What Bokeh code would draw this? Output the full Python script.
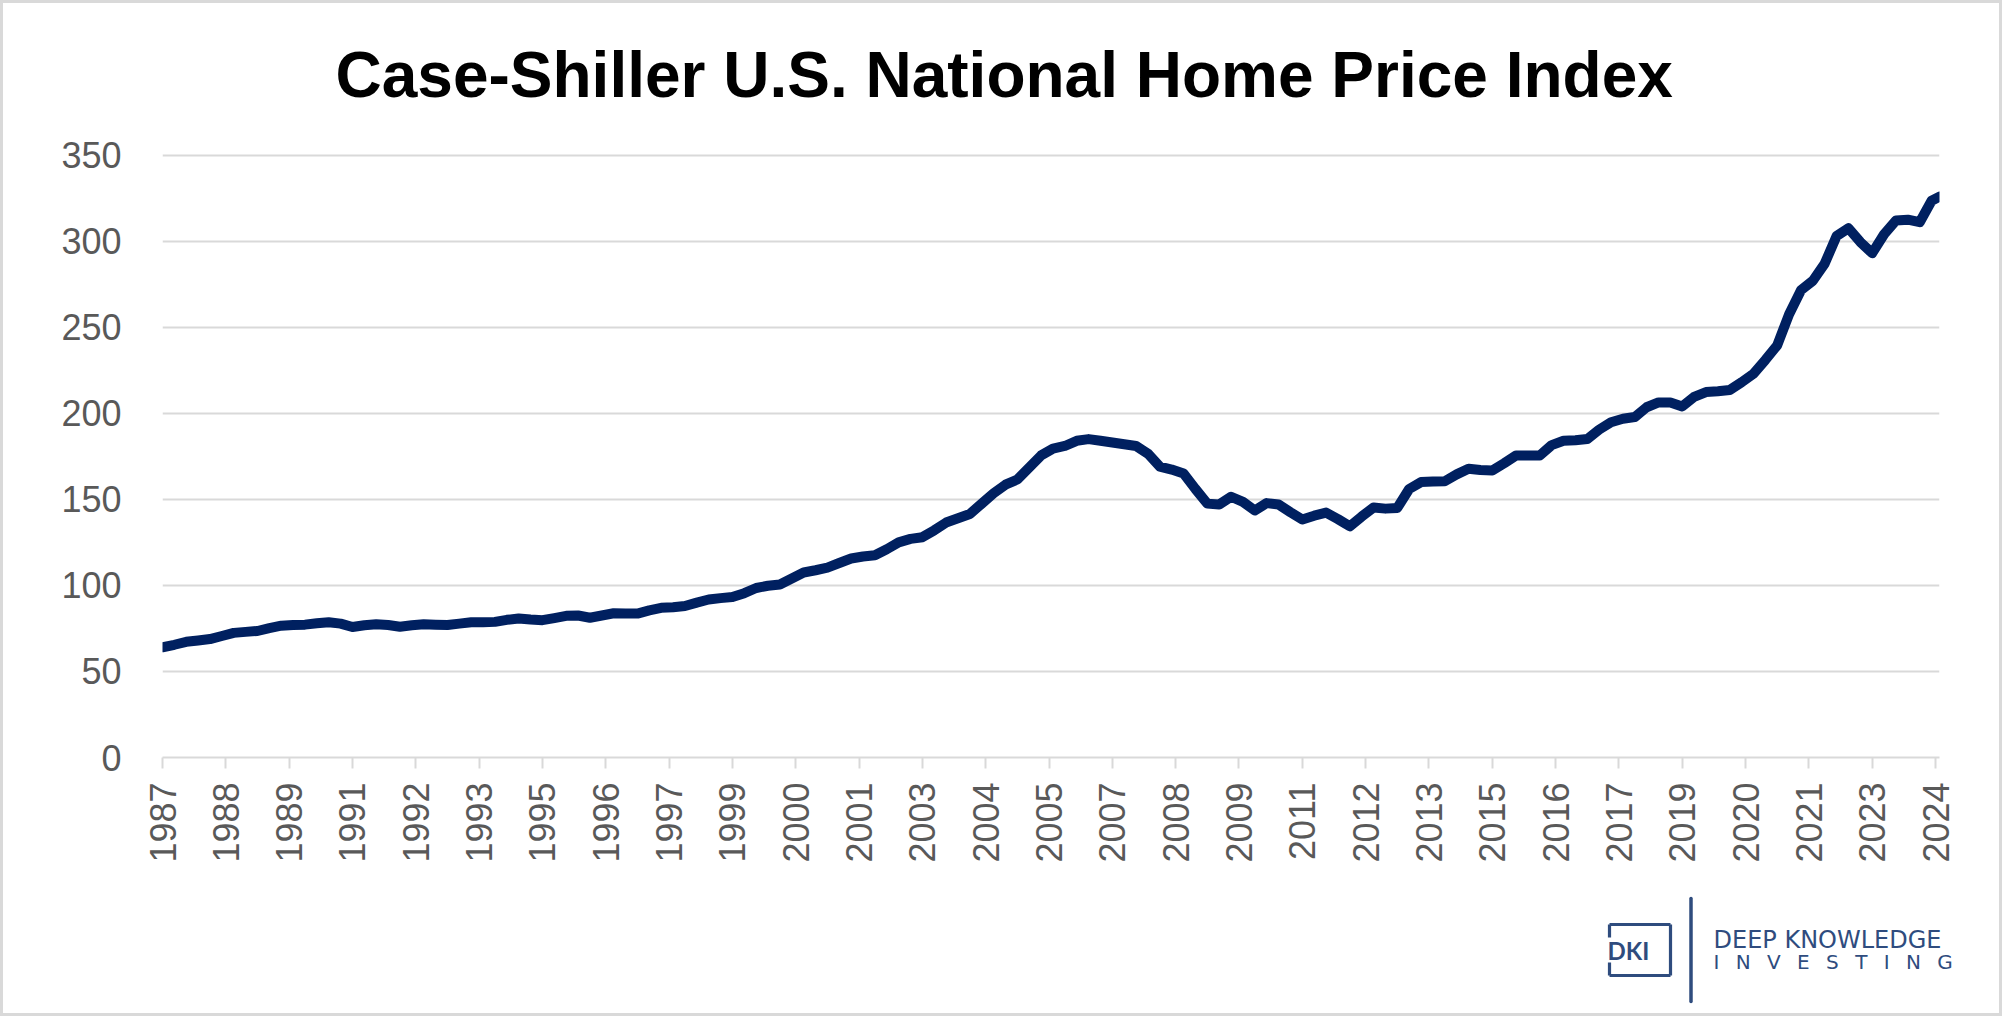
import math
from bokeh.plotting import figure
from bokeh.layouts import column
from bokeh.models import FixedTicker, Range1d
from bokeh.core.properties import value
from bokeh.embed import file_html
from bokeh.resources import INLINE

# ---------------- data ----------------
TITLE = "Case-Shiller U.S. National Home Price Index"

# quarterly samples (Jan, Apr, Jul, Oct), last point 2024-06
sample_years = list(range(1987, 2025))
sample_months = ["01", "04", "07", "10"]

hpi_values = [
    64.0, 65.5, 67.2, 68.0,      # 1987
    68.8, 70.6, 72.4, 73.0,      # 1988
    73.5, 75.2, 76.6, 77.0,      # 1989
    77.2, 78.0, 78.6, 77.8,      # 1990
    75.8, 76.8, 77.4, 77.0,      # 1991
    76.0, 76.8, 77.4, 77.2,      # 1992
    77.0, 77.8, 78.6, 78.6,      # 1993
    78.8, 80.0, 80.8, 80.2,      # 1994
    79.8, 81.0, 82.3, 82.5,      # 1995
    81.2, 82.5, 83.8, 83.6,      # 1996
    83.6, 85.5, 87.0, 87.3,      # 1997
    88.0, 90.0, 91.8, 92.6,      # 1998
    93.2, 95.5, 98.5, 99.8,      # 1999
    100.5, 104.0, 107.5, 108.8,  # 2000
    110.3, 113.0, 115.6, 116.8,  # 2001
    117.5, 121.0, 125.0, 127.0,  # 2002
    128.0, 132.0, 136.5, 139.0,  # 2003
    141.5, 147.5, 153.5, 158.5,  # 2004
    161.5, 168.5, 175.5, 179.5,  # 2005
    181.0, 184.0, 185.0, 184.0,  # 2006
    183.0, 182.0, 181.0, 176.5,  # 2007
    169.0, 167.3, 165.0, 156.0,  # 2008
    147.5, 147.0, 151.5, 148.5,  # 2009
    143.5, 147.8, 147.0, 142.5,  # 2010
    138.3, 140.5, 142.3, 138.5,  # 2011
    134.3, 140.0, 145.3, 144.6,  # 2012
    145.0, 156.0, 160.0, 160.3,  # 2013
    160.5, 164.5, 167.8, 167.0,  # 2014
    166.8, 171.0, 175.5, 175.5,  # 2015
    175.5, 181.5, 184.0, 184.3,  # 2016
    185.0, 190.5, 194.8, 196.8,  # 2017
    197.8, 203.5, 206.3, 206.3,  # 2018
    204.0, 209.5, 212.3, 212.8,  # 2019
    213.5, 218.0, 223.0, 231.0,  # 2020
    239.5, 257.5, 271.5, 277.0,  # 2021
    287.0, 303.0, 307.5, 299.5,  # 2022
    293.0, 304.0, 312.0, 312.5,  # 2023
    311.0, 323.5, 325.9,         # 2024 (Jan, Apr, Jun)
]

sample_dates = [f"{y}-{m}" for y in sample_years for m in sample_months][: len(hpi_values) - 1]
sample_dates.append("2024-06")

# category-axis labels (every 16 months, as in the original)
tick_dates = [
    "1987-01", "1988-05", "1989-09", "1991-01", "1992-05", "1993-09",
    "1995-01", "1996-05", "1997-09", "1999-01", "2000-05", "2001-09",
    "2003-01", "2004-05", "2005-09", "2007-01", "2008-05", "2009-09",
    "2011-01", "2012-05", "2013-09", "2015-01", "2016-05", "2017-09",
    "2019-01", "2020-05", "2021-09", "2023-01", "2024-05",
]
y_ticks = [0, 50, 100, 150, 200, 250, 300, 350]

LOGO_MARK = "DKI"
LOGO_TOP = "DEEP KNOWLEDGE"
LOGO_BOTTOM = "I\u2002 N\u2002 V\u2002 E\u2002 S\u2002 T\u2002 I\u2002 N\u2002 G"


def month_index(d):
    y, m = d.split("-")
    return (int(y) - 1987) * 12 + int(m) - 1


xs = [month_index(d) for d in sample_dates]
tick_pos = [month_index(d) for d in tick_dates]
tick_labels = {t: d[:4] for t, d in zip(tick_pos, tick_dates)}

# ---------------- styling ----------------
GRAY = "#d9d9d9"
LABEL_GRAY = "#595959"
NAVY = "#002060"
LOGO = "#2f4c7e"
FONT = "Liberation Sans"
TOTAL_W = 2002

# ---------------- main chart ----------------
p = figure(
    frame_width=1777, frame_height=611,
    x_range=Range1d(0, 449), y_range=Range1d(0, 355),
    min_border_left=162, min_border_right=TOTAL_W - 162 - 1777,
    min_border_top=146, min_border_bottom=128,
    output_backend="svg", toolbar_location=None,
    title=TITLE,
)
p.frame_align = False
p.outline_line_color = None
p.background_fill_color = "white"
p.border_fill_color = "white"

p.title.text_font = FONT
p.title.text_font_size = "64px"
p.title.text_font_style = "bold"
p.title.text_color = "black"
p.title.align = "left"
p.title.offset = 173
p.title.vertical_align = "middle"
p.title.standoff = 70

# y axis
p.yaxis.ticker = FixedTicker(ticks=y_ticks)
p.yaxis.axis_line_color = None
p.yaxis.major_tick_line_color = None
p.yaxis.minor_tick_line_color = None
p.yaxis.major_tick_out = 0
p.yaxis.major_tick_in = 0
p.yaxis.major_label_standoff = 41
p.yaxis.major_label_text_font = FONT
p.yaxis.major_label_text_font_size = "36px"
p.yaxis.major_label_text_color = LABEL_GRAY

# x axis
p.xaxis.ticker = FixedTicker(ticks=tick_pos)
p.xaxis.major_label_overrides = tick_labels
p.xaxis.major_label_orientation = math.pi / 2
p.xaxis.axis_line_color = GRAY
p.xaxis.axis_line_width = 2
p.xaxis.major_tick_line_color = GRAY
p.xaxis.major_tick_line_width = 2
p.xaxis.major_tick_out = 11
p.xaxis.major_tick_in = 0
p.xaxis.minor_tick_line_color = None
p.xaxis.major_label_standoff = 14
p.xaxis.major_label_text_font = FONT
p.xaxis.major_label_text_font_size = "36px"
p.xaxis.major_label_text_color = LABEL_GRAY

# grid
p.xgrid.visible = False
p.ygrid.ticker = FixedTicker(ticks=y_ticks)
p.ygrid.grid_line_color = GRAY
p.ygrid.grid_line_width = 2

p.line(xs, hpi_values, line_color=NAVY, line_width=10,
       line_join="round", line_cap="round")

# ---------------- logo strip (pixel-like coordinates) ----------------
STRIP_TOP, STRIP_BOTTOM = 885, 1016
logo = figure(
    frame_width=TOTAL_W, frame_height=STRIP_BOTTOM - STRIP_TOP,
    x_range=Range1d(0, TOTAL_W), y_range=Range1d(STRIP_BOTTOM, STRIP_TOP),
    min_border=0, x_axis_type=None, y_axis_type=None,
    output_backend="svg", toolbar_location=None,
)
logo.frame_align = False
logo.outline_line_color = None
logo.grid.visible = False
logo.background_fill_color = "white"
logo.border_fill_color = "white"

# DKI box (left side interrupted by the D)
logo.segment(x0=[1609, 1670, 1609, 1609, 1609], y0=[924, 924, 975, 924, 962],
             x1=[1670, 1670, 1670, 1609, 1609], y1=[924, 975, 975, 937, 975],
             line_color=LOGO, line_width=3.2)
logo.text(x=[1607], y=[950], text=[LOGO_MARK], text_font=value("Lato"),
          text_font_style="bold", text_font_size="24px", text_color=LOGO,
          text_align="left", text_baseline="middle")
# divider bar
logo.segment(x0=[1690.5], y0=[898], x1=[1690.5], y1=[1001],
             line_color=LOGO, line_width=3.5, line_cap="round")
logo.text(x=[1713], y=[939.5], text=[LOGO_TOP], text_font=value("DejaVu Sans"),
          text_font_size="24px", text_color=LOGO,
          text_align="left", text_baseline="middle")
logo.text(x=[1713], y=[961.5], text=[LOGO_BOTTOM], text_font=value("DejaVu Sans"),
          text_font_size="20px", text_color=LOGO,
          text_align="left", text_baseline="middle")

BORDER_CSS = (
    ":host { position: relative; }"
    ":host::after { content: ''; position: absolute; left: 0; top: 0; right: 0; bottom: 0;"
    " border: 3px solid #d9d9d9; pointer-events: none; z-index: 100; }"
)
layout = column(p, logo, spacing=0, stylesheets=[BORDER_CSS])

open("out.html", "w").write(file_html(layout, INLINE))
